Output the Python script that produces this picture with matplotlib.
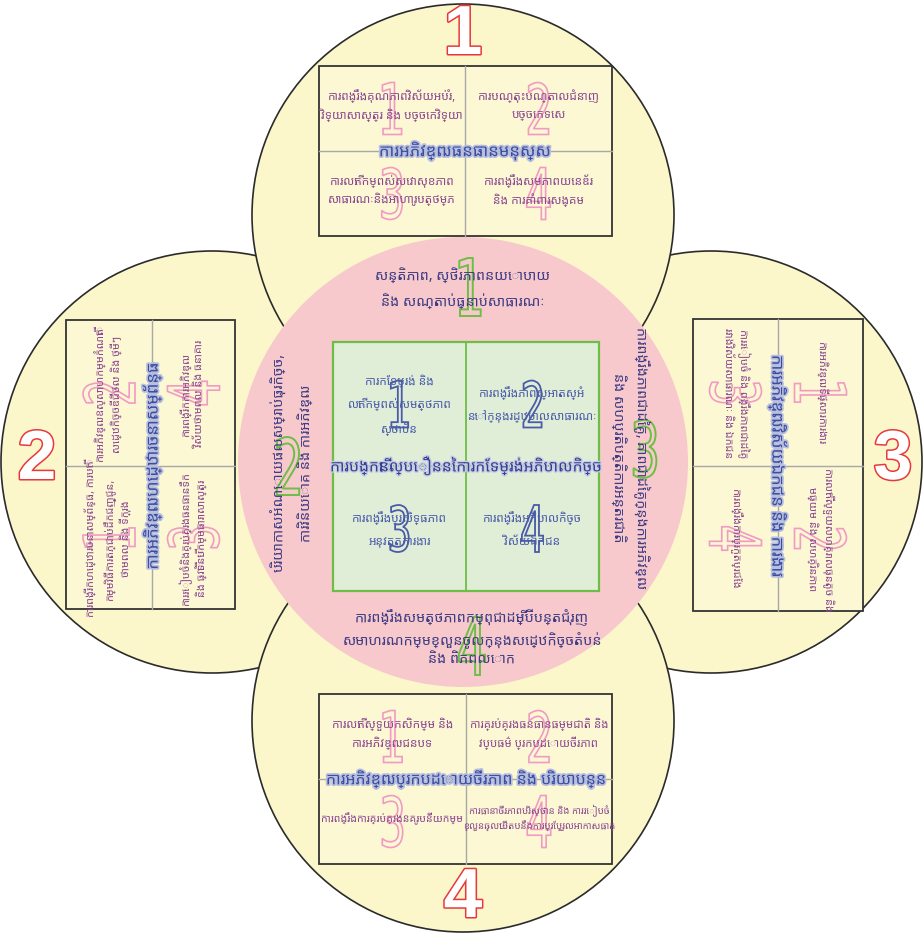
import matplotlib
matplotlib.use("Agg")
import matplotlib.pyplot as plt
import matplotlib.patheffects as pe
from matplotlib.patches import Circle, Rectangle, PathPatch
from matplotlib.textpath import TextPath
from matplotlib.transforms import Affine2D
from matplotlib.font_manager import FontProperties
from matplotlib import font_manager as fm

# ---------------- data ----------------
pillar_numbers = ["1", "2", "3", "4"]
pillar_titles = [
    "ការអភិវឌ្ឍធនធានមនុស្ស",
    "ការអភិវឌ្ឍហេដ្ឋារចនាសម្ព័ន្ធ",
    "ការអភិវឌ្ឍវិស័យឯកជន និង ការងារ",
    "ការអភិវឌ្ឍប្រកបដោយចីរភាព និង បរិយាបន្ន",
]
items_top = [
    "ការពង្រឹងគុណភាពវិស័យអប់រំ,\nវិទ្យាសាស្ត្រ និង បច្ចេកវិទ្យា",
    "ការបណ្តុះបណ្តាលជំនាញ\nបច្ចេកទេស",
    "ការលើកកម្ពស់សេវាសុខភាព\nសាធារណៈនិងអាហារូបត្ថម្ភ",
    "ការពង្រឹងសមភាពយេនឌ័រ\nនិង ការគាំពារសង្គម",
]
items_left = [
    "ការពង្រីកហេដ្ឋារចនាសម្ព័ន្ធ, ការបើក\nកម្មវិធីការតភ្ជាប់ដឹកជញ្ជូន,\nថាមពល និង ទីក្រុង",
    "ការអភិវឌ្ឍឧស្សាហកម្មកំណើត\nសេដ្ឋកិច្ចឌីជីថល និង ថ្មីៗ",
    "ការរៀបចំនិងគ្រប់គ្រងធនធានទឹក\nនិង ធ្វើទំនើបកម្មធារាសាស្ត្រ",
    "ការពង្រីកការអភិវឌ្ឍ\nវិស័យថាមពល និង ធនាគារ",
]
items_right = [
    "ការអភិវឌ្ឍទីផ្សារការងារ",
    "ការលើកស្ទួយសហគ្រាសធុនតូច និង\nមធ្យម និង សហគ្រិនភាព",
    "ការរៀបចំ និង ពង្រឹងភាពជាដៃគូ\nរវាងវិស័យសាធារណៈ និង ឯកជន",
    "ការពង្រឹងការប្រកួតប្រជែង",
]
items_bottom = [
    "ការលើកស្ទួយកសិកម្ម និង\nការអភិវឌ្ឍជនបទ",
    "ការគ្រប់គ្រងធនធានធម្មជាតិ និង\nវប្បធម៌ ប្រកបដោយចីរភាព",
    "ការពង្រឹងការគ្រប់គ្រងនគរូបនីយកម្ម",
    "ការធានាចីរភាពបរិស្ថាន និង ការរៀបចំ\nខ្លួនឆ្លើយតបនឹងការប្រែប្រួលអាកាសធាតុ",
]
core_title = "ការបង្កើនល្បឿននៃការកែទម្រង់អភិបាលកិច្ច"
core_items = [
    "ការកែទម្រង់ និង\nលើកកម្ពស់សមត្ថភាព\nស្ថាប័ន",
    "ការពង្រឹងភាពស្អាតស្អំ\nនៅក្នុងរដ្ឋបាលសាធារណៈ",
    "ការពង្រឹងប្រសិទ្ធភាព\nអនុវត្តការងារ",
    "ការពង្រឹងអភិបាលកិច្ច\nវិស័យឯកជន",
]
ring_texts = [
    "សន្តិភាព, ស្ថិរភាពនយោបាយ\nនិង សណ្តាប់ធ្នាប់សាធារណៈ",
    "បរិយាកាសអំណោយផលសម្រាប់ធុរកិច្ច,\nការវិនិយោគ និង ការអភិវឌ្ឍ",
    "ការពង្រឹងភាពជាដៃគូ, ភាពជាដៃគូក្នុងការអភិវឌ្ឍ\nនិង សហប្រតិបត្តិការអន្តរជាតិ",
    "ការពង្រឹងសមត្ថភាពកម្ពុជាដើម្បីបន្តជំរុញ\nសមាហរណកម្មខ្លួនចូលក្នុងសេដ្ឋកិច្ចតំបន់\nនិង ពិភពលោក",
]

# ---------------- fonts ----------------
avail = {f.name for f in fm.fontManager.ttflist}
khmer_cands = ["Noto Sans Khmer", "Noto Serif Khmer", "Khmer OS", "Khmer OS System",
               "Hanuman", "Battambang", "Kantumruy"]
KH = [f for f in khmer_cands if f in avail] + ["DejaVu Sans"]
BOLDNUM = [f for f in ["Liberation Sans", "DejaVu Sans"] if f in avail or f == "DejaVu Sans"]
NUMPROP = FontProperties(family="DejaVu Sans")

# ---------------- colours ----------------
YELLOW = "#FBF7CB"
BOXFILL = "#FCF8D3"
PINK = "#F8C9CC"
GREENFILL = "#E0EED8"
GREENEDGE = "#6CBE45"
PURPLE = "#8A4790"
TITLEBLUE = "#3A4DA0"
COREBLUE = "#4A5BA8"
RINGNAVY = "#3E3C84"
NUMPINK = "#F29AC4"
NUMRED = "#E8383D"

W, H = 923, 937
fig = plt.figure(figsize=(W / 100, H / 100), dpi=100)
ax = fig.add_axes([0, 0, 1, 1])
ax.set_xlim(0, W)
ax.set_ylim(H, 0)
ax.set_aspect("equal")
ax.axis("off")

# circles: left/right first, then top/bottom
R = 211
for (cx, cy) in [(212, 463), (711, 463), (463, 216), (463, 722)]:
    ax.add_patch(Circle((cx, cy), R, facecolor=YELLOW, edgecolor="#2b2b2b", lw=1.2, zorder=1))
ax.add_patch(Circle((463, 463), 225, facecolor=PINK, edgecolor="none", zorder=2))


def outline_num(x, y, s, h, wf, color, rot=0, lw=1.2):
    """Condensed outline digit of height h (px) centred at (x, y)."""
    tp = TextPath((0, 0), s, size=100, prop=NUMPROP)
    bb = tp.get_extents()
    sy = h / bb.height
    sx = sy * wf
    t = (Affine2D().translate(-(bb.x0 + bb.width / 2), -(bb.y0 + bb.height / 2))
         .scale(sx, sy).rotate_deg(rot).scale(1, -1).translate(x, y))
    ax.add_patch(PathPatch(t.transform_path(tp), facecolor="none", edgecolor=color,
                           lw=lw, zorder=4))


# ---------------- outer boxes ----------------
boxes = {
    "top": (319, 67, 612, 237, 465, 152, 0),
    "left": (66, 321, 235, 610, 152, 467, 90),
    "right": (693, 320, 863, 612, 778, 467, -90),
    "bottom": (319, 695, 612, 865, 466, 780, 0),
}
item_sets = {"top": items_top, "left": items_left, "right": items_right, "bottom": items_bottom}
item_sizes = {"top": [8.5] * 4, "left": [7.8] * 4, "right": [7.8] * 4,
              "bottom": [8.5, 8.2, 7.6, 6.9]}
title_idx = {"top": 0, "left": 1, "right": 2, "bottom": 3}
title_size = {"top": 12, "left": 12, "right": 12, "bottom": 11.5}

for key, (x0, y0, x1, y1, xd, yd, rot) in boxes.items():
    ax.add_patch(Rectangle((x0, y0), x1 - x0, y1 - y0, facecolor=BOXFILL,
                           edgecolor="#333333", lw=1.3, zorder=3))
    ax.plot([xd, xd], [y0, y1], color="#A8A8A8", lw=1.0, zorder=3.5)
    ax.plot([x0, x1], [yd, yd], color="#A8A8A8", lw=1.0, zorder=3.5)
    qx = [(x0 + xd) / 2, (xd + x1) / 2]
    qy = [(y0 + yd) / 2, (yd + y1) / 2]
    if rot == 0:
        pos = [(qx[0], qy[0]), (qx[1], qy[0]), (qx[0], qy[1]), (qx[1], qy[1])]
    elif rot == 90:
        pos = [(qx[0], qy[1]), (qx[0], qy[0]), (qx[1], qy[1]), (qx[1], qy[0])]
    else:
        pos = [(qx[1], qy[0]), (qx[1], qy[1]), (qx[0], qy[0]), (qx[0], qy[1])]
    for n, (px, py), txt, fs in zip(pillar_numbers, pos, item_sets[key], item_sizes[key]):
        outline_num(px, py, n, 52, 0.62, NUMPINK, rot=rot, lw=1.2)
        ax.text(px, py - (4 if rot == 0 else 0), txt, fontsize=fs, family=KH, color=PURPLE,
                ha="center", va="center", rotation=rot, multialignment="center",
                linespacing=1.5, zorder=5)
    ax.text(xd, yd, pillar_titles[title_idx[key]], fontsize=title_size[key], family=KH,
            weight="bold", color=TITLEBLUE, ha="center", va="center", rotation=rot, zorder=6,
            path_effects=[pe.Stroke(linewidth=2.5, foreground="#B8BEDD"), pe.Normal()])

# ---------------- ring texts ----------------
ring_pos = [(463, 289, 0, 1.9), (292, 463, 90, 2.0), (630, 458, -90, 1.6), (472, 638, 0, 1.45)]
green_pos = [(470, 288), (288, 467), (645, 450), (472, 647)]
for n, (px, py, rot, ls), (gx, gy), txt in zip(pillar_numbers, ring_pos, green_pos, ring_texts):
    outline_num(gx, gy, n, 58, 0.62, GREENEDGE, lw=1.4)
    ax.text(px, py, txt, fontsize=10.3, family=KH, color=RINGNAVY, ha="center", va="center",
            rotation=rot, multialignment="center", linespacing=ls, zorder=5)

# ---------------- core box ----------------
cx0, cy0, cx1, cy1, cxd, cyd = 333, 343, 599, 592, 466, 467
ax.add_patch(Rectangle((cx0, cy0), cx1 - cx0, cy1 - cy0, facecolor=GREENFILL,
                       edgecolor=GREENEDGE, lw=1.6, zorder=3))
ax.plot([cxd, cxd], [cy0, cy1], color=GREENEDGE, lw=1.3, zorder=3.5)
ax.plot([cx0, cx1], [cyd, cyd], color=GREENEDGE, lw=1.3, zorder=3.5)
cq = [((cx0 + cxd) / 2, (cy0 + cyd) / 2), ((cxd + cx1) / 2, (cy0 + cyd) / 2),
      ((cx0 + cxd) / 2, (cyd + cy1) / 2), ((cxd + cx1) / 2, (cyd + cy1) / 2)]
for n, (px, py), txt in zip(pillar_numbers, cq, core_items):
    outline_num(px, py, n, 47, 0.62, COREBLUE, lw=1.3)
    ax.text(px, py, txt, fontsize=8.5, family=KH, color=COREBLUE, ha="center", va="center",
            multialignment="center", linespacing=2.0, zorder=5)
ax.text(cxd, cyd, core_title, fontsize=11.3, family=KH, weight="bold", color="#33408F",
        ha="center", va="center", zorder=6,
        path_effects=[pe.Stroke(linewidth=2.0, foreground="#C8CCE4"), pe.Normal()])

# ---------------- big red numbers ----------------
for n, (px, py) in zip(pillar_numbers, [(463, 37), (37, 462), (893, 462), (463, 900)]):
    ax.text(px, py, n, fontsize=50, family=BOLDNUM, weight="bold", color="white",
            ha="center", va="center", zorder=6,
            path_effects=[pe.Stroke(linewidth=2.2, foreground=NUMRED), pe.Normal()])

fig.savefig("out.png", dpi=100, facecolor="white")
